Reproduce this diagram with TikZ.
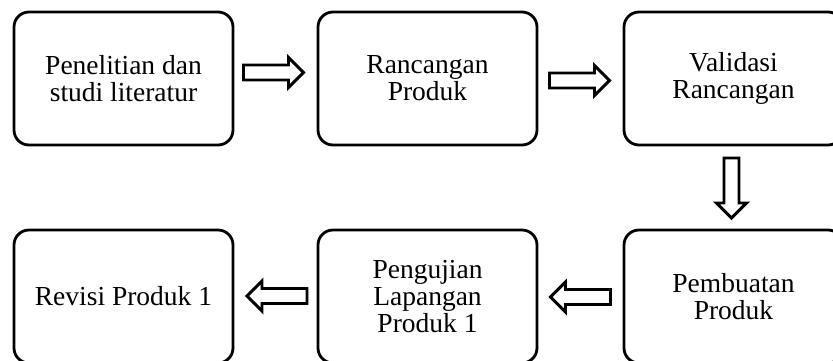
\documentclass[tikz,border=0pt]{standalone}
\usepackage{fontspec}
\setmainfont{Liberation Serif}
\usetikzlibrary{calc}
\tikzset{
  stepbox/.style={draw, line width=2.8pt, rounded corners=15pt, minimum width=219pt,
    minimum height=133pt, align=center, inner sep=0pt,
    font=\fontsize{27.5pt}{27pt}\selectfont},
  flowarrow/.pic={
    \draw[line width=2.9pt, line join=miter, fill=white]
      (-30,-7.5) -- (15,-7.5) -- (15,-15) -- (30,0) -- (15,15) -- (15,7.5) -- (-30,7.5) -- cycle;
  }
}
\begin{document}
\begin{tikzpicture}[x=1pt, y=-1pt]
  \useasboundingbox (0,0) rectangle (833,360);
  \clip (0,0) rectangle (833,360);
  % top row
  \node[stepbox] (b1) at (123.5,78.5) {Penelitian dan\\studi literatur};
  \node[stepbox] (b2) at (427.5,78.5) {Rancangan\\Produk};
  \node[stepbox] (b3) at (733.5,78.5) {Validasi\\Rancangan};
  % bottom row
  \node[stepbox] (b6) at (733.5,296.5) {Pembuatan\\Produk};
  \node[stepbox] (b5) at (427.5,296.5) {Pengujian\\Lapangan\\Produk 1};
  \node[stepbox] (b4) at (123.5,296.5) {Revisi Produk 1};
  % block arrows between the steps
  \path ($(b1.east)!0.5!(b2.west)$) ++(-2,-6) pic {flowarrow};
  \path ($(b2.east)!0.5!(b3.west)$) ++(-1,2) pic {flowarrow};
  \path ($(b3.south)!0.5!(b6.north)$) ++(-2,0.5) pic[rotate=-90] {flowarrow};
  \path ($(b6.west)!0.5!(b5.east)$) ++(0,0.5) pic[rotate=180] {flowarrow};
  \path ($(b5.west)!0.5!(b4.east)$) ++(1.5,-0.5) pic[rotate=180] {flowarrow};
\end{tikzpicture}
\end{document}
